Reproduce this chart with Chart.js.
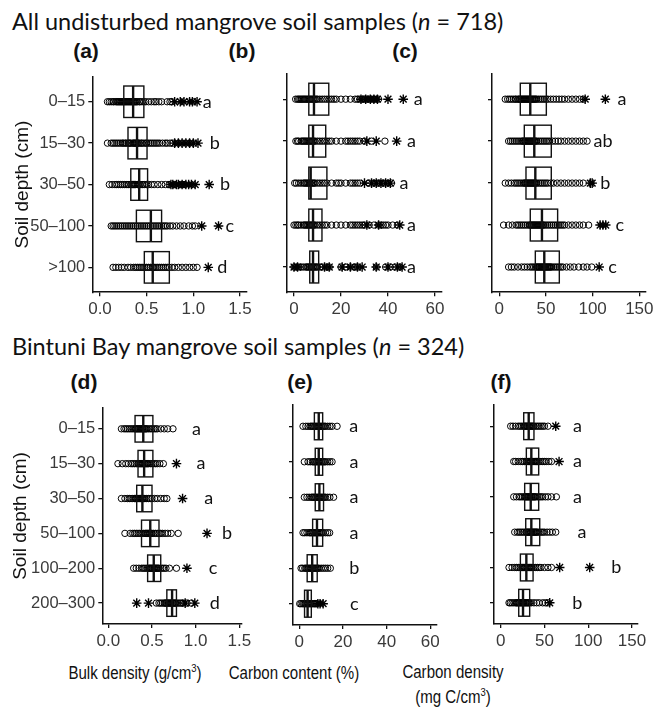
<!DOCTYPE html>
<html>
<head>
<meta charset="utf-8">
<script src="https://cdn.jsdelivr.net/npm/chart.js@4.4.0/dist/chart.umd.min.js"></script>
<style>
  body { margin: 0; background: #fff; }
  #page { position: relative; width: 653px; height: 708px; overflow: hidden; background: #fff; }
  #page canvas { position: absolute; }
  .title { position: absolute; left: 12px; font-family: Lato, sans-serif; font-size: 23.5px; line-height: 1; color: #111; white-space: nowrap; }
  .panel { position: absolute; font-family: 'Liberation Sans', Arial, sans-serif; font-weight: bold; font-size: 21px; line-height: 1; color: #111; transform: translate(-50%, -50%); }
  .xlab { position: absolute; font-family: 'Liberation Sans', Arial, sans-serif; font-size: 17.5px; line-height: 20px; color: #111; white-space: nowrap; transform: translate(-50%, -50%) scaleX(0.86); }
  .xlab sup { font-size: 11px; line-height: 0; }
</style>
</head>
<body>
<div id="page">
  <div class="title" style="top:10px">All undisturbed mangrove soil samples (<i>n</i> = 718)</div>
  <div class="panel" style="left:86px; top:50px">(a)</div>
  <div class="panel" style="left:242px; top:50px">(b)</div>
  <div class="panel" style="left:405px; top:50px">(c)</div>
  <div class="title" style="top:335px">Bintuni Bay mangrove soil samples (<i>n</i> = 324)</div>
  <div class="panel" style="left:84px; top:381px">(d)</div>
  <div class="panel" style="left:300px; top:381px">(e)</div>
  <div class="panel" style="left:501px; top:381px">(f)</div>
  <div class="xlab" style="left:135px; top:673px">Bulk density (g/cm<sup>3</sup>)</div>
  <div class="xlab" style="left:294px; top:673px">Carbon content (%)</div>
  <div class="xlab" style="left:453px; top:672px">Carbon density</div>
  <div class="xlab" style="left:453px; top:697px">(mg C/cm<sup>3</sup>)</div>
</div>
<script>
const depthAll = ['0–15', '15–30', '30–50', '50–100', '>100'];
const depthBintuni = ['0–15', '15–30', '30–50', '50–100', '100–200', '200–300'];

const bdTicks = [0, 0.5, 1.0, 1.5];
const ccTicks = [0, 20, 40, 60];
const cdTicks = [0, 50, 100, 150];

// (a) bulk density, all undisturbed samples
const bdAllQ1 = [0.255, 0.30, 0.33, 0.39, 0.475];
const bdAllMedian = [0.355, 0.397, 0.42, 0.545, 0.565];
const bdAllQ3 = [0.47, 0.504, 0.51, 0.66, 0.743];
const bdAllGroups = ['a', 'b', 'b', 'c', 'd'];
const bdAllPoints = [
    [0.08, 0.10, 0.12, 0.14, 0.15, 0.17, 0.18, 0.19, 0.2, 0.21, 0.22, 0.23, 0.24, 0.25, 0.26, 0.27, 0.28, 0.29, 0.3, 0.31, 0.32, 0.33, 0.34, 0.35, 0.36, 0.37, 0.38, 0.39, 0.4, 0.42, 0.43, 0.45, 0.47, 0.49, 0.52, 0.55, 0.58, 0.6, 0.63, 0.66, 0.72, 0.75, 0.77],
    [0.08, 0.12, 0.14, 0.16, 0.18, 0.2, 0.22, 0.24, 0.25, 0.27, 0.28, 0.3, 0.31, 0.32, 0.33, 0.35, 0.36, 0.37, 0.38, 0.39, 0.4, 0.41, 0.42, 0.44, 0.45, 0.47, 0.49, 0.5, 0.52, 0.54, 0.56, 0.58, 0.6, 0.62, 0.64, 0.67, 0.7, 0.72, 0.75, 0.78],
    [0.1, 0.13, 0.16, 0.18, 0.2, 0.22, 0.24, 0.26, 0.28, 0.3, 0.31, 0.33, 0.34, 0.35, 0.36, 0.37, 0.38, 0.4, 0.41, 0.42, 0.43, 0.45, 0.46, 0.48, 0.5, 0.52, 0.55, 0.58, 0.62, 0.66, 0.7, 0.74, 0.8, 0.86, 0.9],
    [0.12, 0.14, 0.16, 0.18, 0.2, 0.22, 0.24, 0.26, 0.28, 0.3, 0.32, 0.34, 0.36, 0.38, 0.4, 0.42, 0.44, 0.46, 0.48, 0.5, 0.52, 0.54, 0.56, 0.58, 0.6, 0.62, 0.64, 0.66, 0.68, 0.7, 0.72, 0.75, 0.78, 0.82, 0.86, 0.9, 0.95, 0.99, 1.02],
    [0.14, 0.17, 0.2, 0.23, 0.26, 0.3, 0.33, 0.36, 0.38, 0.4, 0.42, 0.44, 0.46, 0.48, 0.5, 0.52, 0.54, 0.56, 0.57, 0.58, 0.6, 0.62, 0.64, 0.66, 0.68, 0.7, 0.72, 0.74, 0.77, 0.8, 0.84, 0.88, 0.92, 0.96, 1.0, 1.04]
];
const bdAllOutliers = [
    [0.8, 0.86, 0.9, 0.96, 0.99, 1.04],
    [0.8, 0.84, 0.88, 0.92, 0.96, 1.0, 1.05],
    [0.76, 0.78, 0.82, 0.84, 0.88, 0.92, 0.95, 0.98, 1.02, 1.17],
    [1.09, 1.27],
    [1.16]
];

// (b) carbon content, all undisturbed samples
const ccAllQ1 = [6.3, 6.3, 6.3, 6.3, 6.7];
const ccAllMedian = [8.5, 8.1, 7.1, 8.1, 8.1];
const ccAllQ3 = [14.8, 13.5, 14.0, 11.9, 10.5];
const ccAllGroups = ['a', 'a', 'a', 'a', 'a'];
const ccAllPoints = [
    [0.7, 1.5, 2, 2.5, 3, 3.5, 4, 4.5, 5, 5.5, 6, 6.5, 7, 7.5, 8, 8.5, 9, 9.5, 10, 11, 12, 13, 14, 15, 16, 17, 18, 20, 22, 24, 26, 27, 28, 29, 30, 31, 32, 33, 34, 35, 36],
    [0.8, 1.5, 2, 3, 3.5, 4, 4.5, 5, 5.5, 6, 6.5, 7, 7.5, 8, 8.5, 9, 10, 11, 12, 13, 14, 15, 16, 18, 20, 22, 23, 24, 25, 26, 27, 28, 30, 33, 38.7],
    [0.3, 1, 2, 3, 4, 4.5, 5, 5.5, 6, 6.5, 7, 7.5, 8, 8.5, 9, 10, 11, 12, 13, 14, 16, 18, 19, 20, 22, 24, 25, 26, 27, 28, 32, 34, 36, 38, 40, 41.5],
    [0, 0.8, 1.5, 2, 3, 4, 4.5, 5, 5.5, 6, 6.5, 7, 7.5, 8, 8.5, 9, 10, 11, 12, 13, 14, 16, 18, 20, 22, 24, 25, 26, 27, 28, 29, 30, 32, 34, 36, 37, 38, 39, 40, 42, 44],
    [0, 1, 2, 3, 4, 5, 5.5, 6, 6.5, 7, 7.5, 8, 8.5, 9, 9.5, 10, 11, 12, 14, 15, 20, 22, 24, 26, 27, 35, 39, 41, 43, 45]
];
const ccAllOutliers = [
    [28.5, 30.5, 32.5, 34, 35.5, 40, 46.5],
    [31, 35, 43.7],
    [30, 33, 35, 37, 39, 41],
    [31, 36, 45],
    [0, 1.5, 13, 15, 20.5, 24, 27, 29, 35, 40, 44, 46]
];

// (c) carbon density, all undisturbed samples
const cdAllQ1 = [22.5, 26.8, 28.6, 33.2, 38.6];
const cdAllMedian = [33.2, 37.5, 38.6, 45.7, 48.2];
const cdAllQ3 = [50.4, 55.7, 55.7, 62.5, 64.3];
const cdAllGroups = ['a', 'ab', 'b', 'c', 'c'];
const cdAllPoints = [
    [6.4, 9, 11, 13, 15, 17, 18, 20, 21, 22, 23, 24, 25, 26, 27, 28, 29, 30, 31, 32, 33, 34, 35, 36, 37, 38, 39, 40, 42, 44, 46, 48, 50, 52, 55, 58, 61, 64, 67, 70, 74, 78, 82, 86, 90],
    [10, 12, 14, 16, 18, 20, 22, 24, 25, 26, 27, 28, 29, 30, 31, 32, 33, 34, 35, 36, 37, 38, 39, 40, 42, 44, 46, 48, 50, 52, 54, 57, 60, 63, 66, 70, 74, 78, 82, 86, 90, 94],
    [6.4, 10, 13, 16, 18, 20, 22, 24, 26, 27, 28, 29, 30, 31, 32, 33, 34, 35, 36, 37, 38, 39, 40, 42, 44, 46, 48, 50, 52, 55, 58, 62, 66, 70, 74, 78, 82, 86, 90],
    [4.6, 10, 14, 18, 20, 22, 24, 26, 28, 30, 32, 33, 34, 35, 36, 37, 38, 39, 40, 41, 42, 43, 44, 45, 46, 47, 48, 50, 52, 54, 56, 58, 60, 62, 64, 66, 68, 70, 74, 78, 82, 86, 90, 95.7],
    [10, 13, 16, 20, 24, 27, 30, 33, 35, 37, 39, 40, 41, 42, 43, 44, 45, 46, 47, 48, 49, 50, 51, 52, 53, 54, 55, 56, 58, 60, 62, 64, 66, 68, 72, 76, 80, 85, 90, 94, 99]
];
const cdAllOutliers = [
    [92, 113.6],
    [],
    [97.5, 99.5],
    [108, 111, 114],
    [107]
];

// (d) bulk density, Bintuni Bay
const bdBinQ1 = [0.306, 0.34, 0.325, 0.38, 0.45, 0.67];
const bdBinMedian = [0.40, 0.41, 0.39, 0.48, 0.52, 0.73];
const bdBinQ3 = [0.51, 0.51, 0.50, 0.58, 0.60, 0.78];
const bdBinGroups = ['a', 'a', 'a', 'b', 'c', 'd'];
const bdBinPoints = [
    [0.15, 0.18, 0.2, 0.22, 0.24, 0.26, 0.28, 0.3, 0.31, 0.32, 0.33, 0.34, 0.35, 0.36, 0.37, 0.38, 0.39, 0.4, 0.41, 0.42, 0.43, 0.44, 0.46, 0.48, 0.5, 0.52, 0.54, 0.56, 0.6, 0.64, 0.68, 0.74],
    [0.11, 0.16, 0.2, 0.23, 0.26, 0.28, 0.3, 0.32, 0.34, 0.35, 0.36, 0.37, 0.38, 0.39, 0.4, 0.41, 0.42, 0.43, 0.44, 0.45, 0.46, 0.48, 0.5, 0.52, 0.54, 0.56, 0.59, 0.63],
    [0.15, 0.19, 0.22, 0.24, 0.26, 0.28, 0.3, 0.31, 0.32, 0.33, 0.34, 0.35, 0.36, 0.37, 0.38, 0.39, 0.4, 0.41, 0.42, 0.44, 0.46, 0.48, 0.5, 0.53, 0.56, 0.6, 0.64, 0.67],
    [0.19, 0.25, 0.28, 0.3, 0.32, 0.34, 0.36, 0.38, 0.4, 0.42, 0.43, 0.44, 0.45, 0.46, 0.47, 0.48, 0.49, 0.5, 0.52, 0.54, 0.56, 0.58, 0.6, 0.62, 0.65, 0.68, 0.72, 0.8],
    [0.29, 0.32, 0.35, 0.38, 0.4, 0.42, 0.44, 0.46, 0.47, 0.48, 0.49, 0.5, 0.51, 0.52, 0.53, 0.54, 0.55, 0.56, 0.57, 0.58, 0.6, 0.62, 0.64, 0.66, 0.7, 0.78],
    [0.55, 0.58, 0.6, 0.62, 0.64, 0.65, 0.66, 0.67, 0.68, 0.69, 0.7, 0.71, 0.72, 0.73, 0.74, 0.75, 0.76, 0.77, 0.78, 0.8, 0.82, 0.84, 0.86, 0.9, 0.95]
];
const bdBinOutliers = [[], [0.78], [0.85], [1.13], [0.9], [0.325, 0.46, 0.88, 0.99]];

// (e) carbon content, Bintuni Bay
const ccBinQ1 = [6.9, 7.3, 7.3, 6.1, 3.6, 2.4];
const ccBinMedian = [8.9, 8.9, 9.2, 8.1, 5.9, 3.8];
const ccBinQ3 = [10.7, 10.7, 11.1, 10.7, 8.2, 5.5];
const ccBinGroups = ['a', 'a', 'a', 'a', 'b', 'c'];
const ccBinPoints = [
    [1.7, 3, 4, 5, 5.5, 6, 6.5, 7, 7.5, 8, 8.5, 9, 9.5, 10, 10.5, 11, 11.5, 12, 13, 14, 15, 17.3],
    [2.3, 4, 5, 6, 6.5, 7, 7.5, 8, 8.5, 9, 9.5, 10, 10.5, 11, 11.5, 12, 13, 14, 15],
    [2.3, 3.5, 4.5, 5.5, 6, 6.5, 7, 7.5, 8, 8.5, 9, 9.5, 10, 10.5, 11, 11.5, 12, 13, 14, 15.7],
    [1.7, 2.5, 3.5, 4.5, 5, 5.5, 6, 6.5, 7, 7.5, 8, 8.5, 9, 9.5, 10, 10.5, 11, 12, 13, 13.9],
    [0.8, 1.5, 2.5, 3, 3.5, 4, 4.5, 5, 5.5, 6, 6.5, 7, 7.5, 8, 8.5, 9, 10, 11, 12, 13, 14.2],
    [0.2, 0.8, 1.5, 2, 2.5, 3, 3.5, 4, 4.5, 5, 5.5, 6, 6.5, 7, 7.5, 8]
];
const ccBinOutliers = [[], [], [], [], [], [8.5, 9.5, 10.9]];

// (f) carbon density, Bintuni Bay
const cdBinQ1 = [26.3, 29.3, 27.4, 28.6, 22.5, 20.6];
const cdBinMedian = [32, 35, 34.3, 35, 29.3, 25.5];
const cdBinQ3 = [38, 43.4, 43.4, 44.6, 37, 33.1];
const cdBinGroups = ['a', 'a', 'a', 'a', 'b', 'b'];
const cdBinPoints = [
    [11.4, 14, 17, 20, 22, 24, 26, 27, 28, 29, 30, 31, 32, 33, 34, 35, 36, 37, 38, 40, 42, 44, 46, 48, 50, 54],
    [14.9, 17, 20, 23, 25, 27, 29, 30, 31, 32, 33, 34, 35, 36, 37, 38, 39, 40, 41, 42, 44, 46, 48, 50, 52, 55, 58],
    [14.9, 18, 21, 23, 25, 27, 28, 29, 30, 31, 32, 33, 34, 35, 36, 37, 38, 39, 40, 42, 44, 46, 48, 51, 54, 58, 63.6],
    [16, 19, 21, 23, 25, 27, 29, 30, 31, 32, 33, 34, 35, 36, 37, 38, 39, 40, 41, 42, 44, 46, 48, 50, 53, 56, 59, 62.9],
    [9.5, 13, 16, 18, 20, 22, 24, 25, 26, 27, 28, 29, 30, 31, 32, 33, 34, 35, 36, 38, 40, 42, 44, 46, 50, 54, 58],
    [9.5, 11, 13, 15, 17, 18, 19, 20, 21, 22, 23, 24, 25, 26, 27, 28, 29, 30, 31, 32, 33, 35, 38, 41, 44, 48, 51, 54]
];
const cdBinOutliers = [[62.9], [66.7], [], [], [67.4, 101.7], [56]];

// layout of each panel: plot area in page pixels, axis ranges, where the group letters sit
const panels = [
    { depths: depthAll, q1: bdAllQ1, med: bdAllMedian, q3: bdAllQ3, pts: bdAllPoints, out: bdAllOutliers, groups: bdAllGroups,
      ticks: bdTicks, digits: 1, xMin: -0.0825, xMax: 1.572, groupX: [1.15, 1.23, 1.34, 1.39, 1.31],
      area: { left: 92.3, top: 73.8, right: 246.7, bottom: 292 }, yTitle: 11 },
    { depths: depthAll, q1: ccAllQ1, med: ccAllMedian, q3: ccAllQ3, pts: ccAllPoints, out: ccAllOutliers, groups: ccAllGroups,
      ticks: ccTicks, digits: 0, xMin: -2.98, xMax: 62.86, groupX: [52.9, 50, 46.8, 50, 50],
      area: { left: 287.3, top: 73.8, right: 442, bottom: 292 } },
    { depths: depthAll, q1: cdAllQ1, med: cdAllMedian, q3: cdAllQ3, pts: cdAllPoints, out: cdAllOutliers, groups: cdAllGroups,
      ticks: cdTicks, digits: 0, xMin: -7.8, xMax: 156.4, groupX: [131.5, 111.1, 113.6, 129, 121.4],
      area: { left: 491.7, top: 73.8, right: 645, bottom: 292 } },
    { depths: depthBintuni, q1: bdBinQ1, med: bdBinMedian, q3: bdBinQ3, pts: bdBinPoints, out: bdBinOutliers, groups: bdBinGroups,
      ticks: bdTicks, digits: 1, xMin: -0.069, xMax: 1.527, groupX: [1.01, 1.06, 1.15, 1.36, 1.2, 1.22],
      area: { left: 102.3, top: 404.5, right: 241.7, bottom: 623.5 }, yTitle: 9.5 },
    { depths: depthBintuni, q1: ccBinQ1, med: ccBinMedian, q3: ccBinQ3, pts: ccBinPoints, out: ccBinOutliers, groups: ccBinGroups,
      ticks: ccTicks, digits: 0, xMin: -2.89, xMax: 62.75, groupX: [24.9, 25, 25, 25, 25.2, 25.2],
      area: { left: 292.7, top: 404.5, right: 436, bottom: 624.5 } },
    { depths: depthBintuni, q1: cdBinQ1, med: cdBinMedian, q3: cdBinQ3, pts: cdBinPoints, out: cdBinOutliers, groups: cdBinGroups,
      ticks: cdTicks, digits: 0, xMin: -7.66, xMax: 156.9, groupX: [87.6, 87.6, 87.6, 93, 132, 87.6],
      area: { left: 494.3, top: 404.5, right: 638.3, bottom: 623.5 } }
];

const sans = "'Liberation Sans', Arial, sans-serif";
const ink = '#111';

// boxes, medians and the group letters, drawn on top of the points
function boxPlugin(p) {
    return {
        id: 'boxPlot',
        afterDatasetsDraw(chart) {
            const ctx = chart.ctx;
            const xs = chart.scales.x, ys = chart.scales.y;
            const row = Math.abs(ys.getPixelForValue(2) - ys.getPixelForValue(1));
            const half = row * 0.38;
            ctx.save();
            ctx.strokeStyle = ink;
            p.depths.forEach((d, i) => {
                const y = ys.getPixelForValue(i + 1);
                const x1 = xs.getPixelForValue(p.q1[i]);
                const x3 = xs.getPixelForValue(p.q3[i]);
                const xm = xs.getPixelForValue(p.med[i]);
                ctx.lineWidth = 1.4;
                ctx.strokeRect(x1, y - half, x3 - x1, half * 2);
                ctx.lineWidth = 2.4;
                ctx.beginPath();
                ctx.moveTo(xm, y - half);
                ctx.lineTo(xm, y + half);
                ctx.stroke();
                ctx.fillStyle = ink;
                ctx.font = '18px Lato, sans-serif';
                ctx.textAlign = 'center';
                ctx.textBaseline = 'middle';
                ctx.fillText(p.groups[i], xs.getPixelForValue(p.groupX[i]), y);
            });
            ctx.restore();
        }
    };
}

function makeChart(p) {
    const page = document.getElementById('page');
    const padTop = 10, padRight = 14, xAxisH = 36;
    const yAxisW = p.yTitle ? p.area.left : 10;
    const left = p.area.left - yAxisW;
    const w = Math.ceil(p.area.right - left + padRight);
    const h = Math.ceil(p.area.bottom - p.area.top + padTop + xAxisH);
    const canvas = document.createElement('canvas');
    canvas.width = w;
    canvas.height = h;
    canvas.style.left = left + 'px';
    canvas.style.top = (p.area.top - padTop) + 'px';
    page.appendChild(canvas);

    const circles = p.pts.flatMap((r, i) => r.map(v => ({ x: v, y: i + 1 })));
    const stars = p.out.flatMap((r, i) => r.map(v => ({ x: v, y: i + 1 })));

    return new Chart(canvas, {
        type: 'scatter',
        data: {
            datasets: [
                { data: circles, pointStyle: 'circle', pointRadius: 3.2, pointBorderWidth: 1,
                  pointBorderColor: '#000', pointBackgroundColor: 'rgba(0,0,0,0)', clip: false },
                { data: stars, pointStyle: 'star', pointRadius: 4.8, pointBorderWidth: 1.4,
                  pointBorderColor: '#000', pointBackgroundColor: '#000', clip: false }
            ]
        },
        options: {
            responsive: false,
            animation: false,
            devicePixelRatio: 1,
            events: [],
            layout: {
                padding: {
                    left: 0,
                    top: padTop,
                    right: w - (p.area.right - left),
                    bottom: h - (p.area.bottom - p.area.top + padTop + xAxisH)
                }
            },
            plugins: { legend: { display: false }, tooltip: { enabled: false } },
            scales: {
                x: {
                    type: 'linear',
                    min: p.xMin,
                    max: p.xMax,
                    afterBuildTicks: s => { s.ticks = p.ticks.map(v => ({ value: v })); },
                    afterFit: s => { s.height = xAxisH; },
                    grid: { display: true, drawOnChartArea: false, drawTicks: true, tickLength: 4, color: ink, lineWidth: 1.3 },
                    border: { display: true, color: ink, width: 1.5 },
                    ticks: { font: { family: sans, size: 17 }, color: '#3a3a3a', padding: 3, maxRotation: 0, autoSkip: false,
                             callback: v => v.toFixed(p.digits) }
                },
                y: {
                    type: 'linear',
                    reverse: true,
                    min: 0.4,
                    max: p.depths.length + 0.6,
                    afterBuildTicks: s => { s.ticks = p.depths.map((d, i) => ({ value: i + 1 })); },
                    afterFit: s => { s.width = yAxisW; },
                    grid: { display: true, drawOnChartArea: false, drawTicks: true, tickLength: 4, color: ink, lineWidth: 1.3 },
                    border: { display: true, color: ink, width: 1.5 },
                    ticks: { display: !!p.yTitle, font: { family: sans, size: 16.5 }, color: '#3a3a3a', padding: 3, autoSkip: false,
                             callback: v => p.depths[v - 1] },
                    title: { display: !!p.yTitle, text: 'Soil depth (cm)', color: ink,
                             font: { family: sans, size: 19 },
                             padding: { top: p.yTitle || 0, bottom: 0 } }
                }
            }
        },
        plugins: [boxPlugin(p)]
    });
}

document.addEventListener('DOMContentLoaded', () => panels.forEach(makeChart));
</script>
</body>
</html>
